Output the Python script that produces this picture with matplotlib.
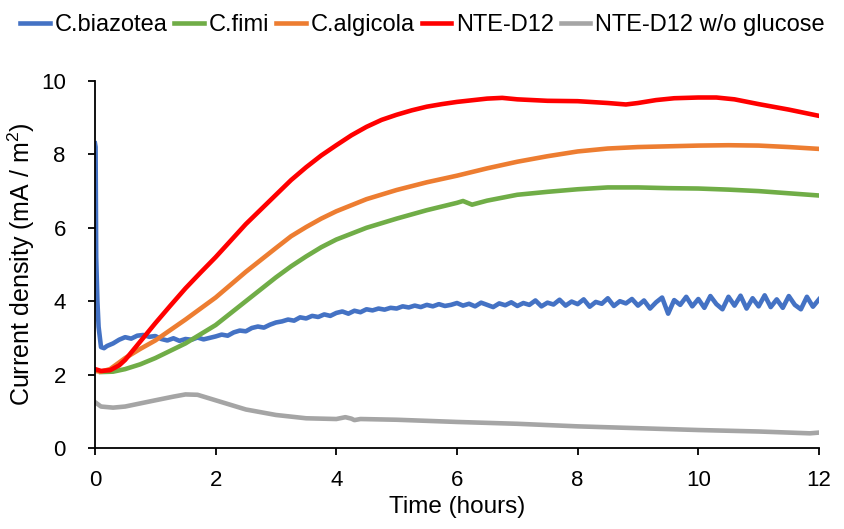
import numpy as np
import matplotlib
matplotlib.use("Agg")
import matplotlib.pyplot as plt

# ==========================
# Data
# ==========================
labels = ["C.biazotea", "C.fimi", "C.algicola", "NTE-D12", "NTE-D12 w/o glucose"]
colors = ["#4472C4", "#70AD47", "#ED7D31", "#FF0000", "#A5A5A5"]

# C.biazotea: sharp start, then noisy signal sampled every 0.1 h from 0.2 h
blue_t_start = [0.0, 0.01, 0.02, 0.04, 0.06, 0.1, 0.15]
blue_start = [8.3, 8.2, 5.2, 4.0, 3.3, 2.75, 2.72]
blue_noisy = [
    2.78, 2.85, 2.95, 3.02, 2.98, 3.06, 3.08, 3.03,
    3.05, 2.97, 2.93, 2.99, 2.92, 2.97, 2.95, 3.01, 2.96, 3.00,
    3.04, 3.09, 3.06, 3.15, 3.20, 3.18, 3.27, 3.31, 3.28, 3.36,
    3.42, 3.45, 3.50, 3.47, 3.56, 3.53, 3.60, 3.57, 3.64, 3.60,
    3.68, 3.72, 3.66, 3.74, 3.70, 3.78, 3.75, 3.80, 3.77, 3.82,
    3.80, 3.86, 3.83, 3.88, 3.84, 3.90, 3.86, 3.92, 3.87, 3.90,
    3.95, 3.88, 3.93, 3.86, 3.96, 3.90, 3.84, 3.94, 3.89, 3.97,
    3.87, 3.95, 3.90, 4.02, 3.86, 3.96, 3.91, 4.04, 3.88, 3.99,
    3.92, 4.05, 3.85, 3.98, 3.93, 4.08, 3.87, 4.00, 3.94, 4.06,
    3.88, 4.02, 3.80, 3.97, 4.10, 3.66, 4.03, 3.90, 4.12, 3.86,
    4.06, 3.82, 4.14, 3.92, 3.78, 4.12, 3.88, 4.15, 3.80, 4.08,
    3.86, 4.16, 3.84, 4.05, 3.82, 4.14, 3.90, 3.78, 4.12, 3.85,
    4.05,
]
blue_t = blue_t_start + list(np.round(np.linspace(0.2, 12.0, len(blue_noisy)), 2))
blue = blue_start + blue_noisy

green_t = [0.1, 0.3, 0.5, 0.75, 1, 1.5, 2, 2.5, 3, 3.25, 3.5, 3.75, 4, 4.5, 5, 5.5, 6,
           6.1, 6.25, 6.5, 7, 7.5, 8, 8.5, 9, 9.5, 10, 10.5, 11, 11.5, 12]
green = [2.07, 2.08, 2.15, 2.28, 2.45, 2.85, 3.35, 4.0, 4.65, 4.95, 5.22, 5.47, 5.68,
         6.0, 6.25, 6.48, 6.68, 6.73, 6.63, 6.74, 6.9, 6.98, 7.05, 7.1, 7.1, 7.08,
         7.07, 7.04, 7.0, 6.94, 6.88]

orange_t = [0, 0.1, 0.25, 0.5, 0.75, 1, 1.5, 2, 2.5, 3, 3.25, 3.5, 3.75, 4, 4.5, 5,
            5.5, 6, 6.5, 7, 7.5, 8, 8.5, 9, 9.5, 10, 10.5, 11, 11.5, 12]
orange = [2.1, 2.08, 2.15, 2.45, 2.7, 2.93, 3.5, 4.1, 4.8, 5.45, 5.77, 6.02, 6.25,
          6.45, 6.78, 7.03, 7.24, 7.42, 7.62, 7.8, 7.95, 8.08, 8.16, 8.2, 8.22, 8.24,
          8.25, 8.24, 8.2, 8.15]

red_t = [0, 0.1, 0.25, 0.4, 0.5, 0.75, 1, 1.25, 1.5, 1.75, 2, 2.25, 2.5, 2.75, 3,
         3.25, 3.5, 3.75, 4, 4.25, 4.5, 4.75, 5, 5.25, 5.5, 5.75, 6, 6.5, 6.75, 7,
         7.5, 8, 8.5, 8.8, 9, 9.3, 9.6, 10, 10.3, 10.6, 11, 11.5, 12]
red = [2.15, 2.1, 2.12, 2.25, 2.4, 2.9, 3.4, 3.88, 4.35, 4.78, 5.2, 5.65, 6.1, 6.5,
       6.9, 7.3, 7.65, 7.97, 8.25, 8.52, 8.75, 8.94, 9.08, 9.2, 9.3, 9.37, 9.43, 9.52,
       9.54, 9.5, 9.46, 9.45, 9.4, 9.36, 9.4, 9.48, 9.53, 9.55, 9.55, 9.5, 9.37, 9.22,
       9.05]

gray_t = [0, 0.1, 0.3, 0.5, 1, 1.3, 1.5, 1.7, 2, 2.5, 3, 3.5, 4, 4.15, 4.25, 4.3,
          4.4, 5, 6, 7, 8, 9, 10, 11, 11.85, 12]
gray = [1.25, 1.13, 1.1, 1.13, 1.3, 1.4, 1.46, 1.45, 1.3, 1.05, 0.9, 0.81, 0.79,
        0.84, 0.8, 0.76, 0.79, 0.77, 0.71, 0.66, 0.59, 0.54, 0.49, 0.45, 0.4, 0.42]

x_ticks = [0, 2, 4, 6, 8, 10, 12]
y_ticks = [0, 2, 4, 6, 8, 10]

# ==========================
# Plot
# ==========================
plt.rcParams["font.family"] = ["Liberation Sans", "DejaVu Sans"]
plt.rcParams["mathtext.fontset"] = "custom"
plt.rcParams["mathtext.rm"] = "Liberation Sans"
plt.rcParams["mathtext.it"] = "Liberation Sans"

fig = plt.figure(figsize=(8.45, 5.29), dpi=100)
ax = fig.add_axes([0.1124, 0.1531, 0.8568, 0.6938])

series = [(blue_t, blue), (green_t, green), (orange_t, orange), (red_t, red), (gray_t, gray)]
for (t, v), lab, col in zip(series, labels, colors):
    ax.plot(t, v, color=col, lw=3.3, label=lab, solid_joinstyle="round")

ax.set_xlim(0, 12)
ax.set_ylim(0, 10)
ax.set_xticks(x_ticks)
ax.set_yticks(y_ticks)
ax.tick_params(direction="out", length=5, width=1.3, labelsize=16)
ax.tick_params(axis="x", pad=10.5)
ax.tick_params(axis="y", pad=16)

for side in ["top", "right"]:
    ax.spines[side].set_visible(False)
for side in ["left", "bottom"]:
    ax.spines[side].set_linewidth(1.3)

ax.set_xlabel("Time (hours)", fontsize=17.5, labelpad=4)
ax.set_ylabel("Current density (mA / m$^2$)", fontsize=18, labelpad=3)

fig.legend(
    loc="upper center",
    bbox_to_anchor=(0.5, 1.0),
    ncol=5,
    frameon=False,
    fontsize=17,
    handlelength=1.25,
    handletextpad=0.2,
    columnspacing=0.3,
    borderaxespad=0.2,
)

fig.savefig("out.png", dpi=100)
